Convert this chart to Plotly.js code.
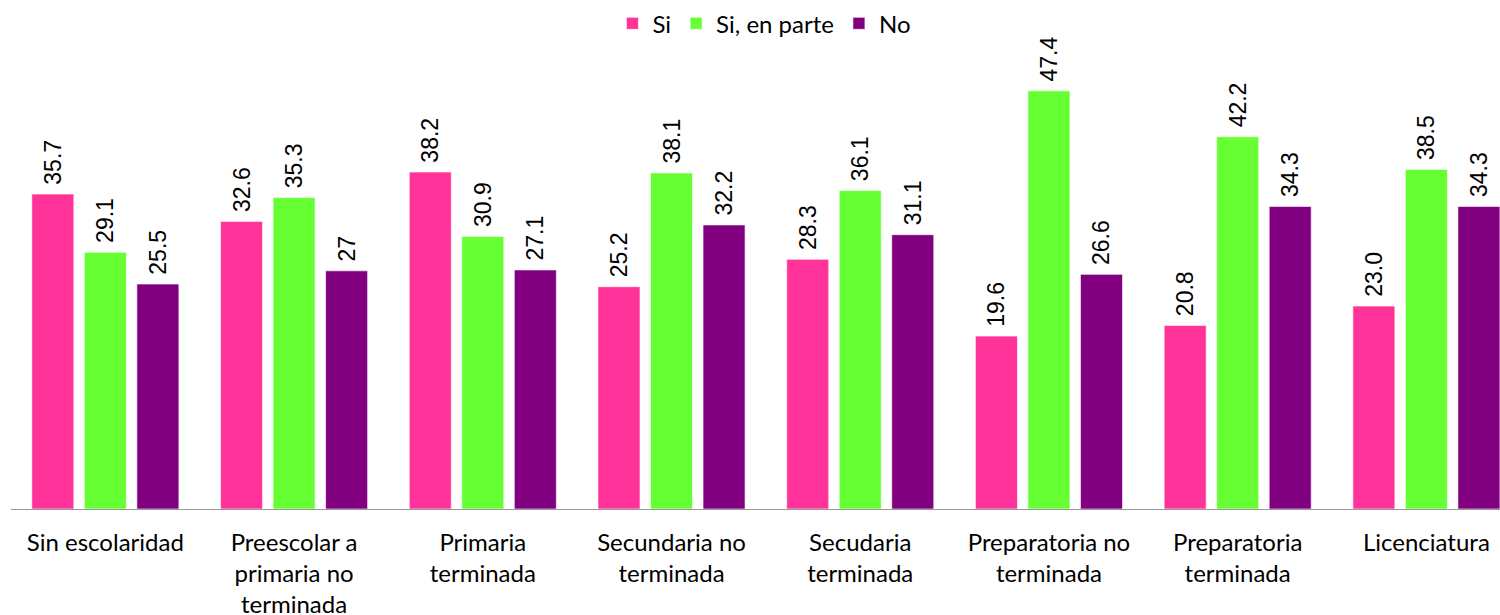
<!DOCTYPE html>
<html>
<head>
<meta charset="utf-8">
<script src="https://cdn.plot.ly/plotly-3.0.1.min.js"></script>
<style>html,body{margin:0;padding:0;background:#fff;}#chart{width:1500px;height:615px;}</style>
</head>
<body>
<div id="chart"></div>
<script>
const categories = ["Sin escolaridad", "Preescolar a<br>primaria no<br>terminada", "Primaria<br>terminada", "Secundaria no<br>terminada", "Secudaria<br>terminada", "Preparatoria no<br>terminada", "Preparatoria<br>terminada", "Licenciatura"];
const seriesNames = ["Si", "Si, en parte", "No"];
const siValues = [35.7, 32.6, 38.2, 25.2, 28.3, 19.6, 20.8, 23.0];
const siEnParteValues = [29.1, 35.3, 30.9, 38.1, 36.1, 47.4, 42.2, 38.5];
const noValues = [25.5, 27, 27.1, 32.2, 31.1, 26.6, 34.3, 34.3];
const siLabels = ["35.7", "32.6", "38.2", "25.2", "28.3", "19.6", "20.8", "23.0"];
const siEnParteLabels = ["29.1", "35.3", "30.9", "38.1", "36.1", "47.4", "42.2", "38.5"];
const noLabels = ["25.5", "27", "27.1", "32.2", "31.1", "26.6", "34.3", "34.3"];
const colors = ["#FF3399", "#66FF33", "#800080"];

const idx = categories.map((_, i) => i);
const valuesList = [siValues, siEnParteValues, noValues];
const labelsList = [siLabels, siEnParteLabels, noLabels];

const traces = seriesNames.map((name, k) => ({
  type: "bar",
  name: name,
  x: idx,
  y: valuesList[k],
  text: labelsList[k].map(s => "\u00a0" + s),
  textposition: "outside",
  textangle: -90,
  constraintext: "none",
  cliponaxis: false,
  textfont: {family: "Liberation Sans, Arial, sans-serif", size: 23, color: "#000"},
  marker: {color: colors[k], line: {color: "rgba(255,255,255,0.6)", width: 1}},
  hoverinfo: "skip"
}));

const layout = {
  width: 1500,
  height: 615,
  paper_bgcolor: "#fff",
  plot_bgcolor: "#fff",
  margin: {l: 11, r: 0, t: 60, b: 106},
  barmode: "group",
  bargap: 0.165,
  bargroupgap: 0.2,
  showlegend: true,
  legend: {
    orientation: "h",
    x: 0.506, xanchor: "center",
    y: 0.998, yanchor: "top",
    yref: "container",
    font: {family: "Lato, Calibri, sans-serif", size: 24, color: "#000"},
    itemwidth: 30,
    traceorder: "normal"
  },
  xaxis: {
    type: "linear",
    range: [-0.5, 7.39],
    tickmode: "array",
    tickvals: idx,
    ticktext: categories,
    showgrid: false,
    zeroline: false,
    showline: true,
    linecolor: "#999",
    linewidth: 1,
    ticks: "",
    ticklabelstandoff: 12,
    tickfont: {family: "Lato, Calibri, sans-serif", size: 24, color: "#000"}
  },
  yaxis: {
    range: [0, 50.9],
    showgrid: false,
    zeroline: false,
    showline: false,
    showticklabels: false,
    ticks: ""
  }
};

Plotly.newPlot("chart", traces, layout, {displayModeBar: false, staticPlot: true});
</script>
</body>
</html>
